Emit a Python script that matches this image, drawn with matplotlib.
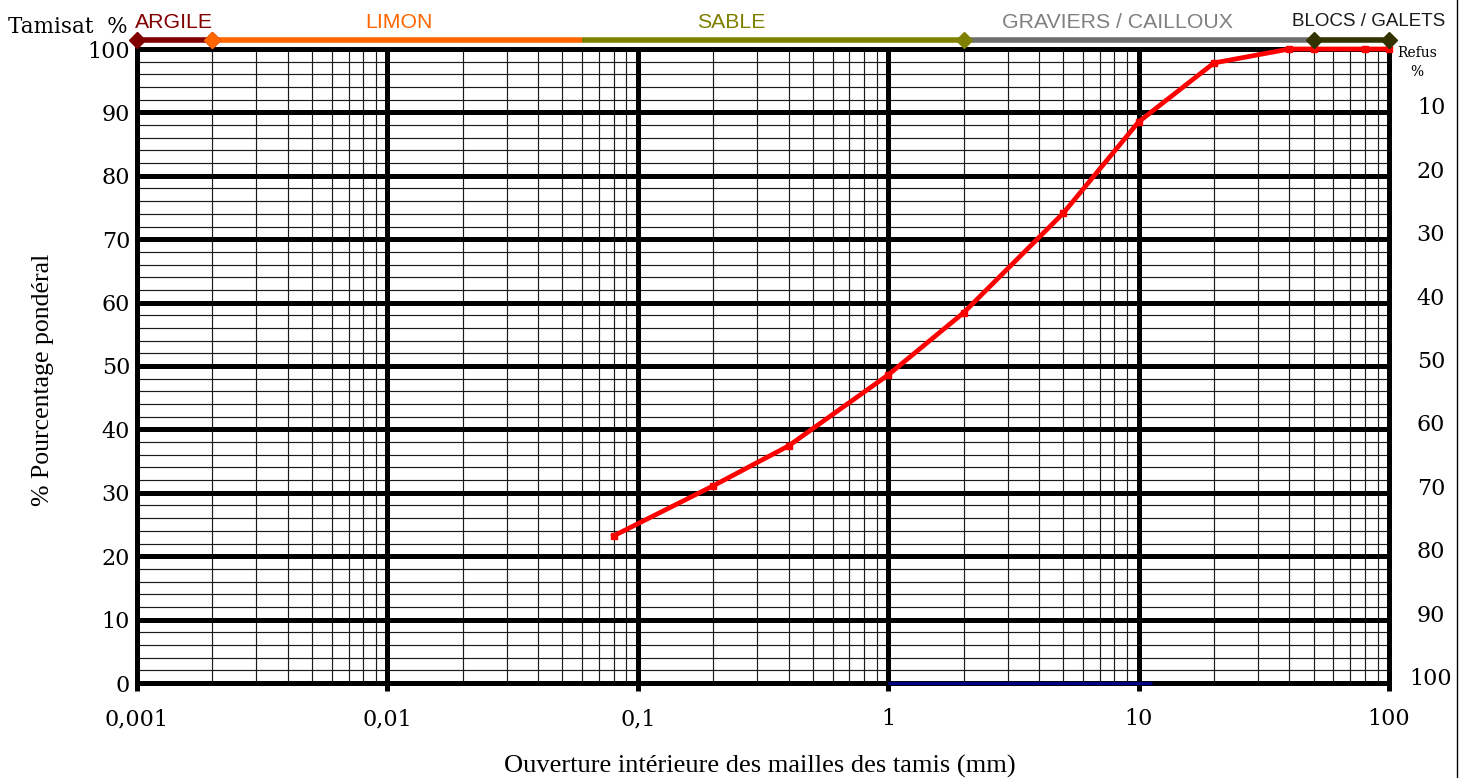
import numpy as np
import matplotlib
matplotlib.use("Agg")
import matplotlib.pyplot as plt
from matplotlib.lines import Line2D
from matplotlib.ticker import FixedLocator, NullFormatter

# ---- data ----
sieve_mm = [0.08, 0.2, 0.4, 1, 2, 5, 10, 20, 40, 50, 80, 100]
passing_pct = [23.2, 31.1, 37.4, 48.6, 58.4, 74.1, 88.5, 97.8, 100, 100, 100, 100]

blue_x = [1, 11.3]
blue_y = [0, 0]

classes = ["ARGILE", "LIMON", "SABLE", "GRAVIERS / CAILLOUX", "BLOCS / GALETS"]
class_bounds = [(0.001, 0.002), (0.002, 0.06), (0.06, 2), (2, 50), (50, 100)]
class_colors = ["#800000", "#FF6600", "#808000", "#6E6E6E", "#333300"]
class_label_x = [0.00141, 0.0111, 0.237, 8.2, 83]
class_label_colors = ["#800000", "#FF6600", "#808000", "#808080", "#1a1a1a"]
class_label_sizes = [15.3, 15.3, 15.3, 15.3, 13.5]

xtick_vals = [0.001, 0.01, 0.1, 1, 10, 100]
xtick_labels = ["0,001", "0,01", "0,1", "1", "10", "100"]
ytick_vals = [0, 10, 20, 30, 40, 50, 60, 70, 80, 90, 100]
refus_labels = ["100", "90", "80", "70", "60", "50", "40", "30", "20", "10"]

W, H = 1466, 778
fig = plt.figure(figsize=(W / 100, H / 100), dpi=100)
ax = fig.add_axes([137 / W, 1 - 683 / H, (1389 - 137) / W, (683 - 49) / H])
ax.set_xscale("log")
ax.set_xlim(0.001, 100)
ax.set_ylim(0, 100)

serif = "Liberation Serif"
tickfont = "DejaVu Serif"

# grid
minor_x = [m * 10.0 ** e for e in range(-3, 2) for m in range(2, 10)]
for xv in minor_x:
    ax.axvline(xv, color="#1a1a1a", lw=0.85, zorder=1)
for yv in range(2, 100, 2):
    if yv % 10:
        ax.axhline(yv, color="#1a1a1a", lw=0.85, zorder=1)
for xv in xtick_vals[1:-1]:
    ax.axvline(xv, color="black", lw=3.6, zorder=2)
for yv in ytick_vals[1:-1]:
    ax.axhline(yv, color="black", lw=3.6, zorder=2)

for s in ax.spines.values():
    s.set_linewidth(3.6)
    s.set_zorder(3)

ax.xaxis.set_major_locator(FixedLocator(xtick_vals))
ax.xaxis.set_minor_locator(FixedLocator(minor_x))
ax.xaxis.set_minor_formatter(NullFormatter())
ax.set_xticklabels(xtick_labels, fontfamily=tickfont, fontsize=16)
ax.tick_params(axis="x", which="major", length=6, width=3.6, direction="out", pad=12)
ax.tick_params(axis="x", which="minor", length=0)
ax.set_yticks(ytick_vals)
ax.set_yticklabels([str(v) for v in ytick_vals], fontfamily=tickfont, fontsize=16)
ax.tick_params(axis="y", length=0, pad=5)

# curve
ax.plot(sieve_mm, passing_pct, color="#FF0000", lw=3.4, marker="s", markersize=4.5,
        zorder=5, clip_on=False)
ax.plot(blue_x, blue_y, color="#000080", lw=2.4, zorder=6, clip_on=False, solid_capstyle="butt")

# classification band
band_y = 100 + 9 / 6.34
label_y = 100 + 27 / 6.34
marker_ends = [(True, True), (True, False), (False, True), (False, False), (True, True)]
for (x0, x1), c in zip(class_bounds, class_colors):
    ax.plot([x0, x1], [band_y, band_y], color=c, lw=4, clip_on=False, zorder=7,
            solid_capstyle="butt")
for (x0, x1), c, (m0, m1) in zip(class_bounds, class_colors, marker_ends):
    pts = [x for x, m in ((x0, m0), (x1, m1)) if m]
    if pts:
        ax.plot(pts, [band_y] * len(pts), ls="none", marker="D", markersize=8,
                color=c, clip_on=False, zorder=8)
for name, xl, c, fs in zip(classes, class_label_x, class_label_colors, class_label_sizes):
    ax.text(xl, label_y, name, color=c, fontsize=fs, fontfamily="Liberation Sans",
            ha="center", va="center", clip_on=False)

# right "refus" labels
for i, lab in enumerate(refus_labels[::-1]):
    yv = 100 - 10 * (i + 1)
    ax.text(1431 / W, 1 - (683 - yv * 6.34 - 4) / H, lab, transform=fig.transFigure,
            fontfamily=tickfont, fontsize=16, ha="center", va="center")
fig.text(1417 / W, 1 - 53 / H, "Refus", fontfamily=tickfont, fontsize=10, ha="center", va="center")
fig.text(1417 / W, 1 - 72 / H, "%", fontfamily=tickfont, fontsize=10, ha="center", va="center")

fig.text(8 / W, 1 - 27 / H, "Tamisat  %", fontfamily=tickfont, fontsize=15.5, ha="left", va="center")
fig.text(43 / W, 1 - 380 / H, "% Pourcentage pondéral", fontfamily=serif, fontsize=18.5,
         rotation=90, ha="center", va="center")
fig.text(760 / W, 1 - 766 / H, "Ouverture intérieure des mailles des tamis (mm)",
         fontfamily=serif, fontsize=19, ha="center", va="center")

fig.add_artist(Line2D([1457 / W, 1457 / W], [0, 1], color="black", lw=1,
                      transform=fig.transFigure))

fig.savefig("out.png", dpi=100)
